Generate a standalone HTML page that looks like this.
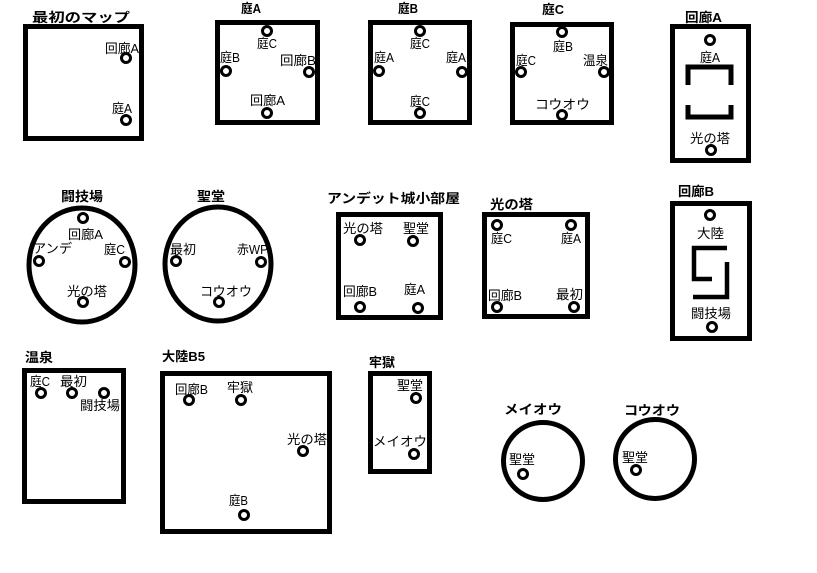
<!DOCTYPE html>
<html><head><meta charset="utf-8"><style>
html,body{margin:0;padding:0;background:#fff}
svg{display:block}
text{font-family:"Liberation Sans","Noto Sans CJK JP",sans-serif;font-size:13px;fill:#000}
.t{font-weight:bold;font-size:13px}
.b{fill:none;stroke:#000;stroke-width:5}
.c{fill:#fff;stroke:#000;stroke-width:3}
</style></head><body>
<svg width="817" height="573" viewBox="0 0 817 573" xmlns="http://www.w3.org/2000/svg">
<text class="t" x="32" y="22" textLength="98" lengthAdjust="spacingAndGlyphs">最初のマップ</text>
<rect class="b" x="25.5" y="26.5" width="116" height="112"/>
<text x="105" y="53" textLength="34" lengthAdjust="spacingAndGlyphs">回廊A</text>
<text x="112" y="113" textLength="20" lengthAdjust="spacingAndGlyphs">庭A</text>
<circle class="c" cx="126" cy="58" r="4.5"/><circle class="c" cx="126" cy="120" r="4.5"/>
<text class="t" x="241" y="13" textLength="20" lengthAdjust="spacingAndGlyphs">庭A</text>
<rect class="b" x="217.5" y="22.5" width="100" height="100"/>
<text x="257" y="48" textLength="20" lengthAdjust="spacingAndGlyphs">庭C</text>
<text x="220" y="62" textLength="20" lengthAdjust="spacingAndGlyphs">庭B</text>
<text x="280" y="65" textLength="36" lengthAdjust="spacingAndGlyphs">回廊B</text>
<text x="250" y="105" textLength="35" lengthAdjust="spacingAndGlyphs">回廊A</text>
<circle class="c" cx="267" cy="31" r="4.5"/><circle class="c" cx="226" cy="71" r="4.5"/><circle class="c" cx="309" cy="72" r="4.5"/><circle class="c" cx="267" cy="113" r="4.5"/>
<text class="t" x="398" y="13" textLength="20" lengthAdjust="spacingAndGlyphs">庭B</text>
<rect class="b" x="370.5" y="22.5" width="99" height="100"/>
<text x="410" y="48" textLength="20" lengthAdjust="spacingAndGlyphs">庭C</text>
<text x="374" y="62" textLength="20" lengthAdjust="spacingAndGlyphs">庭A</text>
<text x="446" y="62" textLength="20" lengthAdjust="spacingAndGlyphs">庭A</text>
<text x="410" y="106" textLength="20" lengthAdjust="spacingAndGlyphs">庭C</text>
<circle class="c" cx="420" cy="31" r="4.5"/><circle class="c" cx="379" cy="71" r="4.5"/><circle class="c" cx="462" cy="72" r="4.5"/><circle class="c" cx="420" cy="113" r="4.5"/>
<text class="t" x="542" y="14" textLength="22" lengthAdjust="spacingAndGlyphs">庭C</text>
<rect class="b" x="512.5" y="24.5" width="99" height="98"/>
<text x="553" y="51" textLength="20" lengthAdjust="spacingAndGlyphs">庭B</text>
<text x="516" y="65" textLength="20" lengthAdjust="spacingAndGlyphs">庭C</text>
<text x="583" y="65" textLength="25" lengthAdjust="spacingAndGlyphs">温泉</text>
<text x="535" y="109" textLength="55" lengthAdjust="spacingAndGlyphs">コウオウ</text>
<circle class="c" cx="562" cy="32" r="4.5"/><circle class="c" cx="521" cy="72" r="4.5"/><circle class="c" cx="604" cy="72" r="4.5"/><circle class="c" cx="562" cy="115" r="4.5"/>
<text class="t" x="685" y="22" textLength="37" lengthAdjust="spacingAndGlyphs">回廊A</text>
<rect class="b" x="672.5" y="26.5" width="76" height="134"/>
<text x="700" y="62" textLength="20" lengthAdjust="spacingAndGlyphs">庭A</text>
<text x="690" y="143" textLength="40" lengthAdjust="spacingAndGlyphs">光の塔</text>
<circle class="c" cx="710" cy="40" r="4.5"/><circle class="c" cx="711" cy="150" r="4.5"/>
<polyline class="b" points="688,85 688,67 731,67 731,85"/>
<polyline class="b" points="688,105 688,117 731,117 731,105"/>
<text class="t" x="61" y="201" textLength="42" lengthAdjust="spacingAndGlyphs">闘技場</text>
<ellipse class="b" cx="82" cy="265" rx="53" ry="57"/>
<text x="68" y="239" textLength="35" lengthAdjust="spacingAndGlyphs">回廊A</text>
<text x="33" y="253" textLength="39" lengthAdjust="spacingAndGlyphs">アンデ</text>
<text x="104" y="254" textLength="21" lengthAdjust="spacingAndGlyphs">庭C</text>
<text x="67" y="296" textLength="40" lengthAdjust="spacingAndGlyphs">光の塔</text>
<circle class="c" cx="83" cy="218" r="4.5"/><circle class="c" cx="39" cy="261" r="4.5"/><circle class="c" cx="125" cy="262" r="4.5"/><circle class="c" cx="83" cy="302" r="4.5"/>
<text class="t" x="197" y="201" textLength="28" lengthAdjust="spacingAndGlyphs">聖堂</text>
<ellipse class="b" cx="218" cy="264" rx="53" ry="57"/>
<text x="170" y="254" textLength="26" lengthAdjust="spacingAndGlyphs">最初</text>
<text x="237" y="254" textLength="31" lengthAdjust="spacingAndGlyphs">赤WP</text>
<text x="200" y="296" textLength="52" lengthAdjust="spacingAndGlyphs">コウオウ</text>
<circle class="c" cx="176" cy="261" r="4.5"/><circle class="c" cx="261" cy="262" r="4.5"/><circle class="c" cx="219" cy="302" r="4.5"/>
<text class="t" x="327" y="203" textLength="133" lengthAdjust="spacingAndGlyphs">アンデット城小部屋</text>
<rect class="b" x="338.5" y="214.5" width="102" height="103"/>
<text x="343" y="233" textLength="40" lengthAdjust="spacingAndGlyphs">光の塔</text>
<text x="403" y="233" textLength="26" lengthAdjust="spacingAndGlyphs">聖堂</text>
<text x="343" y="296" textLength="34" lengthAdjust="spacingAndGlyphs">回廊B</text>
<text x="404" y="294" textLength="21" lengthAdjust="spacingAndGlyphs">庭A</text>
<circle class="c" cx="360" cy="240" r="4.5"/><circle class="c" cx="413" cy="241" r="4.5"/><circle class="c" cx="360" cy="307" r="4.5"/><circle class="c" cx="418" cy="308" r="4.5"/>
<text class="t" x="490" y="209" textLength="43" lengthAdjust="spacingAndGlyphs">光の塔</text>
<rect class="b" x="484.5" y="214.5" width="103" height="102"/>
<text x="491" y="243" textLength="21" lengthAdjust="spacingAndGlyphs">庭C</text>
<text x="561" y="243" textLength="20" lengthAdjust="spacingAndGlyphs">庭A</text>
<text x="488" y="300" textLength="34" lengthAdjust="spacingAndGlyphs">回廊B</text>
<text x="556" y="299" textLength="27" lengthAdjust="spacingAndGlyphs">最初</text>
<circle class="c" cx="497" cy="225" r="4.5"/><circle class="c" cx="571" cy="225" r="4.5"/><circle class="c" cx="497" cy="307" r="4.5"/><circle class="c" cx="574" cy="307" r="4.5"/>
<text class="t" x="678" y="196" textLength="36" lengthAdjust="spacingAndGlyphs">回廊B</text>
<rect class="b" x="672.5" y="203.5" width="77" height="135"/>
<text x="697" y="238" textLength="27" lengthAdjust="spacingAndGlyphs">大陸</text>
<text x="691" y="318" textLength="40" lengthAdjust="spacingAndGlyphs">闘技場</text>
<circle class="c" cx="710" cy="215" r="4.5"/><circle class="c" cx="712" cy="327" r="4.5"/>
<polyline fill="none" stroke="#000" stroke-width="4.5" points="727,248 694,248 694,279 712,279"/>
<polyline fill="none" stroke="#000" stroke-width="4.5" points="727,262 727,297 693,297"/>
<text class="t" x="25" y="362" textLength="28" lengthAdjust="spacingAndGlyphs">温泉</text>
<rect class="b" x="24.5" y="370.5" width="99" height="131"/>
<text x="30" y="386" textLength="20" lengthAdjust="spacingAndGlyphs">庭C</text>
<text x="60" y="386" textLength="27" lengthAdjust="spacingAndGlyphs">最初</text>
<text x="80" y="410" textLength="40" lengthAdjust="spacingAndGlyphs">闘技場</text>
<circle class="c" cx="41" cy="393" r="4.5"/><circle class="c" cx="72" cy="393" r="4.5"/><circle class="c" cx="104" cy="393" r="4.5"/>
<text class="t" x="162" y="361" textLength="43" lengthAdjust="spacingAndGlyphs">大陸B5</text>
<rect class="b" x="162.5" y="373.5" width="167" height="158"/>
<text x="175" y="394" textLength="33" lengthAdjust="spacingAndGlyphs">回廊B</text>
<text x="227" y="392" textLength="26" lengthAdjust="spacingAndGlyphs">牢獄</text>
<text x="287" y="444" textLength="40" lengthAdjust="spacingAndGlyphs">光の塔</text>
<text x="229" y="505" textLength="19" lengthAdjust="spacingAndGlyphs">庭B</text>
<circle class="c" cx="189" cy="400" r="4.5"/><circle class="c" cx="241" cy="400" r="4.5"/><circle class="c" cx="303" cy="451" r="4.5"/><circle class="c" cx="244" cy="515" r="4.5"/>
<text class="t" x="369" y="367" textLength="26" lengthAdjust="spacingAndGlyphs">牢獄</text>
<rect class="b" x="370.5" y="373.5" width="59" height="98"/>
<text x="397" y="390" textLength="26" lengthAdjust="spacingAndGlyphs">聖堂</text>
<text x="373" y="446" textLength="54" lengthAdjust="spacingAndGlyphs">メイオウ</text>
<circle class="c" cx="416" cy="398" r="4.5"/><circle class="c" cx="414" cy="454" r="4.5"/>
<text class="t" x="504" y="414" textLength="58" lengthAdjust="spacingAndGlyphs">メイオウ</text>
<ellipse class="b" cx="543" cy="461" rx="39.5" ry="38.5"/>
<text x="509" y="464" textLength="26" lengthAdjust="spacingAndGlyphs">聖堂</text>
<circle class="c" cx="523" cy="474" r="4.5"/>
<text class="t" x="624" y="415" textLength="56" lengthAdjust="spacingAndGlyphs">コウオウ</text>
<ellipse class="b" cx="655" cy="459" rx="39.5" ry="39.5"/>
<text x="622" y="462" textLength="26" lengthAdjust="spacingAndGlyphs">聖堂</text>
<circle class="c" cx="636" cy="470" r="4.5"/>
</svg>
</body></html>
